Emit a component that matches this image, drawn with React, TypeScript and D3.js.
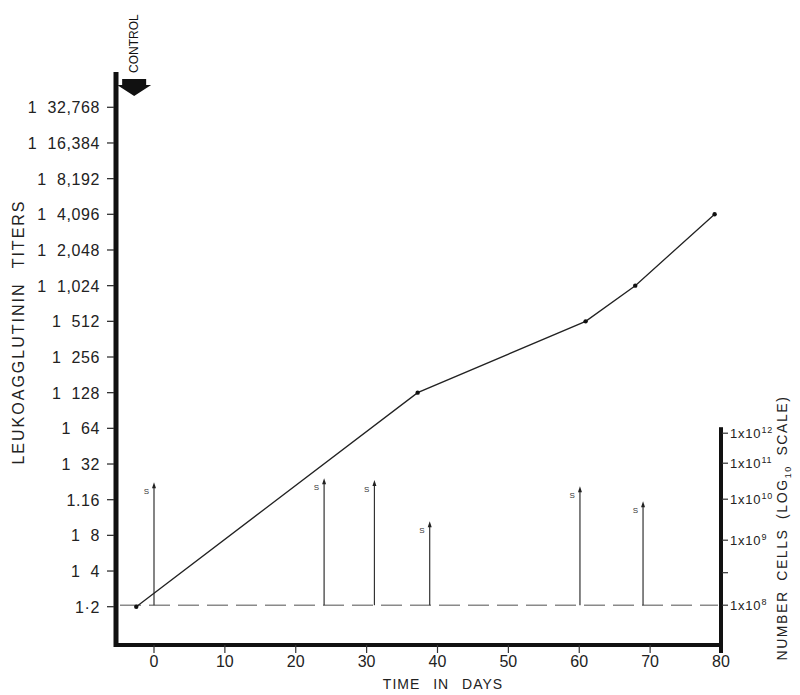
import React, { useEffect, useRef } from "react";
import * as d3 from "d3";

// titer curve (day, reciprocal titer)
const days = [-2.5, 37.2, 60.9, 67.9, 79.1];
const titers = [2, 128, 512, 1024, 4096];

// "S" injections: day and cells given (log10)
const spikeDays = [0, 24, 31.1, 38.9, 60.1, 69];
const spikeCells = [10.47, 10.58, 10.53, 9.46, 10.36, 9.95];

const titerTicks = [2, 4, 8, 16, 32, 64, 128, 256, 512, 1024, 2048, 4096, 8192, 16384, 32768];
const titerLabels = [
  "1·2", "1 4", "1 8", "1.16", "1 32", "1 64", "1 128", "1 256", "1 512",
  "1 1,024", "1 2,048", "1 4,096", "1 8,192", "1 16,384", "1 32,768",
];
const dayTicks = [0, 10, 20, 30, 40, 50, 60, 70, 80];
const cellTicks = [8, 9, 10, 11, 12];
const cellMinorTicks = [8.5];
const controlDay = -2.8;

const font = "'Liberation Sans', Arial, sans-serif";

export default function App() {
  const ref = useRef<SVGSVGElement>(null);

  useEffect(() => {
    document.body.style.margin = "0";
    const svg = d3.select(ref.current);
    svg.selectAll("*").remove();

    const left = 116, right = 721, bottom = 645, top = 72;
    const xScale = d3.scaleLinear().domain([0, 80]).range([154, right]);
    const yScale = d3.scaleLog().base(2).domain([2, 32768]).range([606.7, 107.3]);
    // right axis is not evenly spaced in the original
    const base = yScale(2) - 1.5;
    const cellScale = d3
      .scaleLinear()
      .domain(cellTicks)
      .range([base, base - 65, base - 106, base - 142, base - 172]);

    const g = svg.append("g");

    // dashed baseline at 1x10^8
    g.append("line")
      .attr("x1", left + 4)
      .attr("x2", right - 3)
      .attr("y1", cellScale(8))
      .attr("y2", cellScale(8))
      .attr("stroke", "#8a8a8a")
      .attr("stroke-width", 1.4)
      .attr("stroke-dasharray", "21,8");

    // left axis
    g.append("line")
      .attr("x1", left).attr("x2", left)
      .attr("y1", top).attr("y2", bottom + 2)
      .attr("stroke", "#111").attr("stroke-width", 5);
    // bottom axis
    g.append("line")
      .attr("x1", left - 2).attr("x2", right + 2)
      .attr("y1", bottom).attr("y2", bottom)
      .attr("stroke", "#111").attr("stroke-width", 4);
    // right axis
    g.append("line")
      .attr("x1", right).attr("x2", right)
      .attr("y1", cellScale(12.2)).attr("y2", bottom + 8)
      .attr("stroke", "#111").attr("stroke-width", 4);

    // left ticks + labels
    g.selectAll(".ytick")
      .data(titerTicks)
      .enter()
      .append("line")
      .attr("x1", left - 9).attr("x2", left - 2)
      .attr("y1", (d) => yScale(d)).attr("y2", (d) => yScale(d))
      .attr("stroke", "#333").attr("stroke-width", 1.3);
    g.selectAll(".ylabel")
      .data(titerTicks)
      .enter()
      .append("text")
      .attr("x", 100)
      .attr("y", (d) => yScale(d) + 6)
      .attr("text-anchor", "end")
      .attr("font-family", font)
      .attr("font-size", 16)
      .attr("letter-spacing", 0.6)
      .attr("fill", "#222")
      .style("white-space", "pre")
      .text((d, i) => titerLabels[i].replace(" ", "  "));

    // bottom ticks + labels
    g.selectAll(".xtick")
      .data(dayTicks.slice(0, -1))
      .enter()
      .append("line")
      .attr("x1", (d) => xScale(d)).attr("x2", (d) => xScale(d))
      .attr("y1", bottom).attr("y2", bottom + 8)
      .attr("stroke", "#333").attr("stroke-width", 1.2);
    g.selectAll(".xlabel")
      .data(dayTicks)
      .enter()
      .append("text")
      .attr("x", (d) => xScale(d))
      .attr("y", 667)
      .attr("text-anchor", "middle")
      .attr("font-family", font)
      .attr("font-size", 16)
      .attr("fill", "#222")
      .text((d) => String(d));
    g.append("text")
      .attr("x", 443)
      .attr("y", 689)
      .attr("text-anchor", "middle")
      .attr("font-family", font)
      .attr("font-size", 14)
      .attr("letter-spacing", 1)
      .attr("word-spacing", 8)
      .attr("fill", "#222")
      .text("TIME IN DAYS");

    // right ticks + labels
    g.selectAll(".rtick")
      .data(cellTicks.concat(cellMinorTicks))
      .enter()
      .append("line")
      .attr("x1", right + 1).attr("x2", right + 7)
      .attr("y1", (d) => cellScale(d)).attr("y2", (d) => cellScale(d))
      .attr("stroke", "#333").attr("stroke-width", 1.2);
    const rl = g.selectAll(".rlabel")
      .data(cellTicks)
      .enter()
      .append("text")
      .attr("x", right + 9)
      .attr("y", (d) => cellScale(d) + 4.5)
      .attr("font-family", font)
      .attr("font-size", 13)
      .attr("letter-spacing", 0.8)
      .attr("fill", "#222");
    rl.append("tspan").text("1x10");
    rl.append("tspan")
      .attr("dy", -5)
      .attr("font-size", 9)
      .text((d) => String(d));

    // axis titles
    g.append("text")
      .attr("transform", "translate(24,332) rotate(-90)")
      .attr("text-anchor", "middle")
      .attr("font-family", font)
      .attr("font-size", 16)
      .attr("letter-spacing", 2)
      .attr("word-spacing", 8)
      .attr("fill", "#222")
      .text("LEUKOAGGLUTININ TITERS");
    const rt = g.append("text")
      .attr("transform", "translate(787,528) rotate(-90)")
      .attr("text-anchor", "middle")
      .attr("font-family", font)
      .attr("font-size", 14)
      .attr("letter-spacing", 1.6)
      .attr("word-spacing", 4)
      .attr("fill", "#222");
    rt.append("tspan").text("NUMBER CELLS (LOG");
    rt.append("tspan").attr("dy", 4).attr("font-size", 9).text("10");
    rt.append("tspan").attr("dy", -4).text(" SCALE)");

    // control marker
    const cx = xScale(controlDay);
    g.append("text")
      .attr("transform", `translate(${cx + 4},73) rotate(-90)`)
      .attr("font-family", font)
      .attr("font-size", 12)
      .attr("fill", "#111")
      .text("CONTROL");
    g.append("path")
      .attr(
        "d",
        `M${cx - 12},79 L${cx + 12},79 L${cx + 12},85 L${cx + 17},85 L${cx},96 L${cx - 17},85 L${cx - 12},85 Z`
      )
      .attr("fill", "#111");

    // S spikes
    const spikes = g.selectAll(".spike")
      .data(spikeDays)
      .enter()
      .append("g");
    spikes.append("line")
      .attr("x1", (d) => xScale(d)).attr("x2", (d) => xScale(d))
      .attr("y1", cellScale(8)).attr("y2", (d, i) => cellScale(spikeCells[i]) + 3)
      .attr("stroke", "#333").attr("stroke-width", 1.2);
    spikes.append("path")
      .attr("d", (d, i) => {
        const x = xScale(d), y = cellScale(spikeCells[i]);
        return `M${x},${y} L${x + 2},${y + 6} L${x - 2},${y + 6} Z`;
      })
      .attr("fill", "#222");
    spikes.append("text")
      .attr("x", (d) => xScale(d) - 5)
      .attr("y", (d, i) => cellScale(spikeCells[i]) + 12)
      .attr("text-anchor", "end")
      .attr("font-family", font)
      .attr("font-size", 8)
      .attr("fill", "#333")
      .text("S");

    // titer line
    const line = d3
      .line<number>()
      .x((d) => xScale(d))
      .y((d, i) => yScale(titers[i]));
    g.append("path")
      .datum(days)
      .attr("d", line)
      .attr("fill", "none")
      .attr("stroke", "#222")
      .attr("stroke-width", 1.3);
    g.selectAll(".pt")
      .data(days)
      .enter()
      .append("circle")
      .attr("cx", (d) => xScale(d))
      .attr("cy", (d, i) => yScale(titers[i]))
      .attr("r", 2.2)
      .attr("fill", "#111");
  }, []);

  return (
    <svg
      ref={ref}
      width={800}
      height={695}
      style={{ display: "block", background: "#fff" }}
    />
  );
}
